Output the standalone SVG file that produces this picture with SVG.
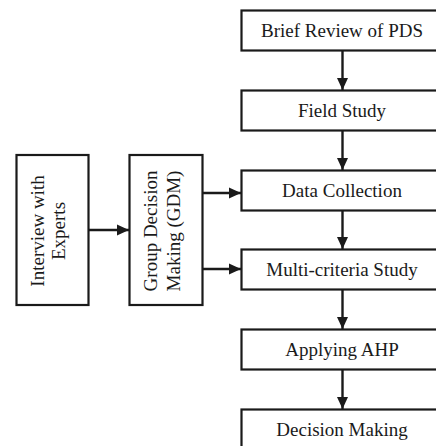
<svg xmlns="http://www.w3.org/2000/svg" width="436" height="446" viewBox="0 0 436 446">
<style>
.box{fill:#fff;stroke:#1a1a1a;stroke-width:2.2}
.t{font-family:"Liberation Serif","Times New Roman",serif;font-size:19px;fill:#1a1a1a;text-anchor:middle}
.c{stroke:#1a1a1a;stroke-width:2.4;fill:none}
</style>
<defs>
<marker id="ah" markerWidth="12" markerHeight="12" refX="12" refY="6" orient="auto" markerUnits="userSpaceOnUse">
<path d="M0,0.5 L12,6 L0,11.5 Z" fill="#1a1a1a"/>
</marker>
</defs>
<g id="n1"><rect class="box" x="241.5" y="10.5" width="210" height="40"/><text class="t" x="342" y="37">Brief Review of PDS</text></g>
<g id="n2"><rect class="box" x="241.5" y="90.5" width="210" height="40"/><text class="t" x="342" y="117">Field Study</text></g>
<g id="n3"><rect class="box" x="241.5" y="170.5" width="210" height="40"/><text class="t" x="342" y="197">Data Collection</text></g>
<g id="n4"><rect class="box" x="241.5" y="249.5" width="210" height="40"/><text class="t" x="342" y="276">Multi-criteria Study</text></g>
<g id="n5"><rect class="box" x="241.5" y="329.5" width="210" height="40"/><text class="t" x="342" y="356">Applying AHP</text></g>
<g id="n6"><rect class="box" x="241.5" y="409.5" width="210" height="40"/><text class="t" x="342" y="436">Decision Making</text></g>
<g id="n7"><rect class="box" x="16.5" y="155" width="72" height="150"/>
<text class="t" transform="translate(43.5,231) rotate(-90)"><tspan x="0" y="0">Interview with</tspan><tspan x="0" y="21.5">Experts</tspan></text></g>
<g id="n8"><rect class="box" x="129.5" y="155" width="73" height="150"/>
<text class="t" transform="translate(156.5,231) rotate(-90)"><tspan x="0" y="0">Group Decision</tspan><tspan x="0" y="23">Making (GDM)</tspan></text></g>
<g id="connectors">
<line class="c" x1="342.5" y1="50.5" x2="342.5" y2="90" marker-end="url(#ah)"/>
<line class="c" x1="342.5" y1="130.5" x2="342.5" y2="170" marker-end="url(#ah)"/>
<line class="c" x1="342.5" y1="210.5" x2="342.5" y2="249" marker-end="url(#ah)"/>
<line class="c" x1="342.5" y1="289.5" x2="342.5" y2="329" marker-end="url(#ah)"/>
<line class="c" x1="342.5" y1="369.5" x2="342.5" y2="409" marker-end="url(#ah)"/>
<line class="c" x1="88.5" y1="230" x2="129" y2="230" marker-end="url(#ah)"/>
<line class="c" x1="202.5" y1="193" x2="241" y2="193" marker-end="url(#ah)"/>
<line class="c" x1="202.5" y1="269" x2="241" y2="269" marker-end="url(#ah)"/>
</g>
</svg>
